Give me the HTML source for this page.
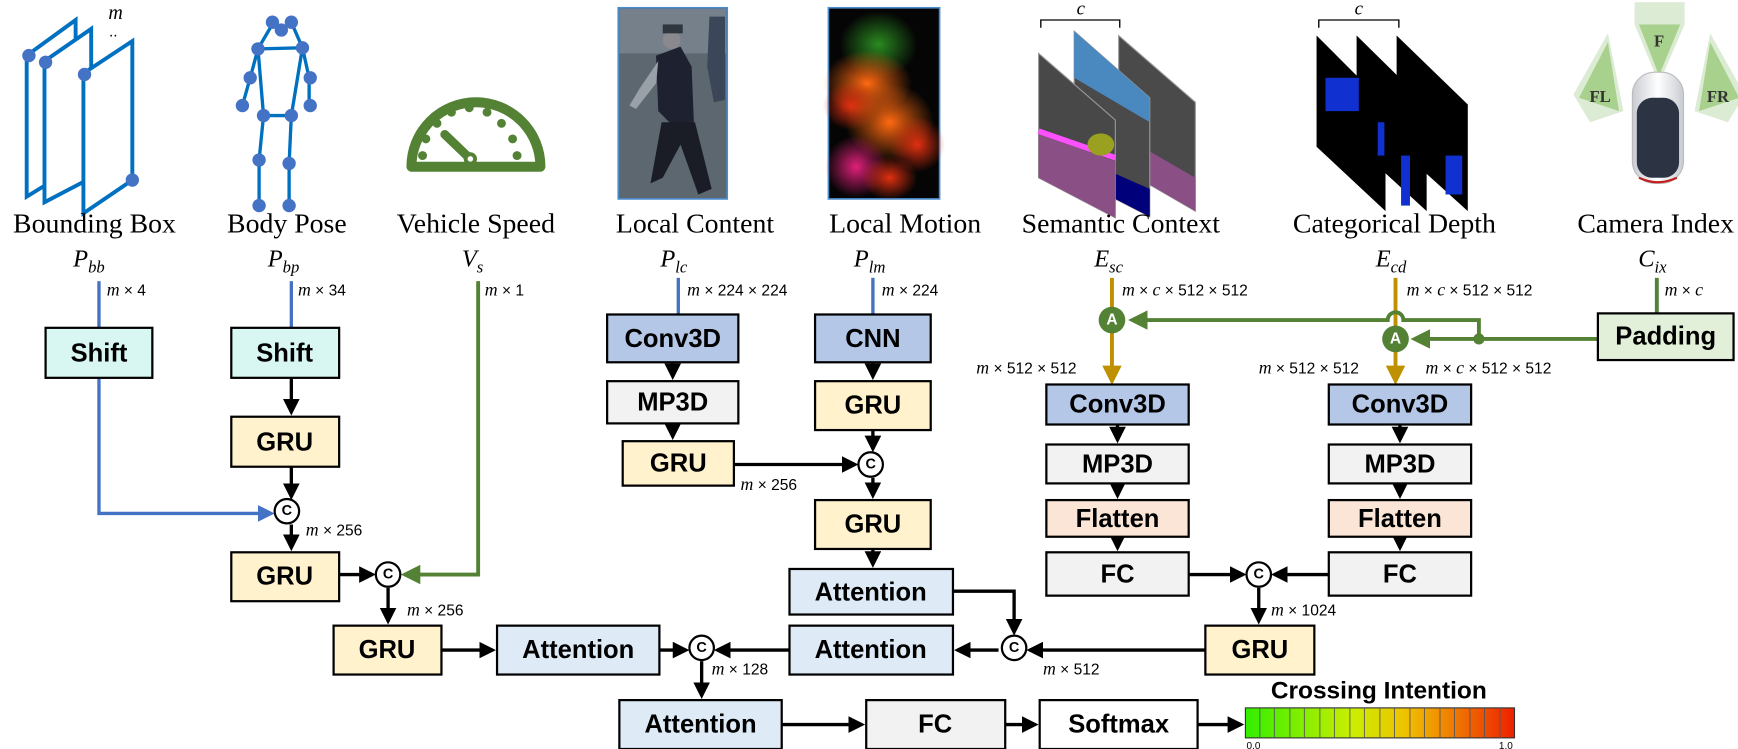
<!DOCTYPE html>
<html><head><meta charset="utf-8"><style>
html,body{margin:0;padding:0;background:#fff;}
svg{display:block;}
.bx{stroke:#000;stroke-width:2;}
.bt{font-family:"Liberation Sans Narrow","Liberation Sans",sans-serif;font-weight:bold;font-size:23px;text-anchor:middle;dominant-baseline:central;}
.tt{font-family:"Liberation Serif",serif;font-size:25px;text-anchor:middle;}
.sb{font-family:"Liberation Serif",serif;font-style:italic;font-size:22px;text-anchor:middle;}
.dm{font-family:"Liberation Sans",sans-serif;font-size:14px;}
.dm tspan.i{font-family:"Liberation Serif",serif;font-style:italic;font-size:16px;}
.ar{stroke:#000;stroke-width:3;fill:none;}
.bl{stroke:#4472c4;stroke-width:3;fill:none;}
.gr{stroke:#548235;stroke-width:3.5;fill:none;}
.gd{stroke:#bf9000;stroke-width:3.5;fill:none;}
.cc{fill:#fff;stroke:#000;stroke-width:2;}
.ct{font-family:"Liberation Sans",sans-serif;font-weight:bold;font-size:13px;text-anchor:middle;dominant-baseline:central;}
</style></head><body>
<svg width="1738" height="749" viewBox="0 0 1563 674" preserveAspectRatio="none" xmlns="http://www.w3.org/2000/svg">
<defs>
<marker id="ak" markerWidth="5" markerHeight="5" refX="4" refY="2.5" orient="auto" markerUnits="strokeWidth"><path d="M0,0L5,2.5L0,5z" fill="#000"/></marker>
<marker id="ab" markerWidth="5" markerHeight="5" refX="4" refY="2.5" orient="auto" markerUnits="strokeWidth"><path d="M0,0L5,2.5L0,5z" fill="#4472c4"/></marker>
<marker id="ag" markerWidth="5" markerHeight="5" refX="4" refY="2.5" orient="auto" markerUnits="strokeWidth"><path d="M0,0L5,2.5L0,5z" fill="#548235"/></marker>
<marker id="ad" markerWidth="5" markerHeight="5" refX="4" refY="2.5" orient="auto" markerUnits="strokeWidth"><path d="M0,0L5,2.5L0,5z" fill="#bf9000"/></marker>
<linearGradient id="bar" x1="0" x2="1"><stop offset="0" stop-color="#33ee00"/><stop offset="0.4" stop-color="#ccee00"/><stop offset="0.6" stop-color="#f0c000"/><stop offset="1" stop-color="#ee2000"/></linearGradient>
<radialGradient id="m1"><stop offset="0" stop-color="#ff6a10"/><stop offset="1" stop-color="#ff6a10" stop-opacity="0"/></radialGradient>
<radialGradient id="m2"><stop offset="0" stop-color="#e0207a"/><stop offset="1" stop-color="#e0207a" stop-opacity="0"/></radialGradient>
<radialGradient id="m3"><stop offset="0" stop-color="#2a8a20"/><stop offset="1" stop-color="#2a8a20" stop-opacity="0"/></radialGradient>
<radialGradient id="m4"><stop offset="0" stop-color="#e03010"/><stop offset="1" stop-color="#e03010" stop-opacity="0"/></radialGradient>
<linearGradient id="car" x1="0" x2="1"><stop offset="0" stop-color="#c8ccd2"/><stop offset="0.5" stop-color="#fff"/><stop offset="1" stop-color="#c8ccd2"/></linearGradient>
</defs>

<!-- Bounding box icon -->
<g stroke="#0070c0" stroke-width="3.5" fill="#fff">
<path d="M24,50 L68,18 L68,150 L24,177 Z"/>
<path d="M40,55 L82,26 L82,160 L40,182 Z"/>
<path d="M75,66 L119,37 L119,162 L75,192 Z"/>
</g>
<g fill="#4472c4"><circle cx="26" cy="50" r="6"/><circle cx="41" cy="56" r="6"/><circle cx="76" cy="67" r="6"/><circle cx="119" cy="162" r="6"/></g>
<text x="104" y="17" class="sb" style="font-size:18px">m</text>
<text x="98" y="33" style="font-family:'Liberation Sans';font-size:14px">..</text>

<!-- Body pose -->
<g stroke="#0070c0" stroke-width="3" fill="none">
<path d="M246,20 L232,44 L272,43 L262,20"/><path d="M232,44 L225,70 L218,95"/><path d="M272,43 L278,70 L278,95"/>
<path d="M232,44 L237,104 L262,104 L272,43"/><path d="M237,104 L233,144 L233,185"/><path d="M262,104 L260,147 L260,185"/>
</g>
<g fill="#4472c4"><circle cx="245" cy="20" r="6"/><circle cx="262" cy="20" r="6"/><circle cx="253" cy="27" r="6"/><circle cx="232" cy="44" r="6"/><circle cx="272" cy="43" r="6"/><circle cx="225" cy="70" r="6"/><circle cx="218" cy="95" r="6"/><circle cx="279" cy="70" r="6"/><circle cx="279" cy="95" r="6"/><circle cx="237" cy="104" r="6"/><circle cx="262" cy="104" r="6"/><circle cx="233" cy="144" r="6"/><circle cx="260" cy="147" r="6"/><circle cx="233" cy="185" r="6"/><circle cx="260" cy="185" r="6"/></g>

<!-- Speedometer -->
<path d="M370,150 A58,58 0 0 1 486,150 Z" fill="none" stroke="#548235" stroke-width="9" stroke-linejoin="round"/>
<g fill="#548235"><circle cx="380" cy="140" r="4"/><circle cx="383" cy="125" r="4"/><circle cx="393" cy="111" r="4"/><circle cx="406" cy="101" r="4"/><circle cx="422" cy="97" r="4"/><circle cx="438" cy="101" r="4"/><circle cx="451" cy="111" r="4"/><circle cx="461" cy="125" r="4"/><circle cx="465" cy="140" r="4"/></g>
<path d="M400,121 L423,143" stroke="#548235" stroke-width="8" stroke-linecap="round"/>
<circle cx="423" cy="143" r="6" fill="#548235"/><circle cx="423" cy="143" r="2.5" fill="#fff"/>

<!-- Local content image -->
<rect x="556" y="7" width="98" height="172" fill="#5d6770" stroke="#4a8ccc" stroke-width="1.5"/>
<rect x="557" y="8" width="96" height="40" fill="#75808a"/>
<path d="M590,50 L612,42 L622,60 L624,110 L604,112 L592,100 Z" fill="#1e2230"/>
<path d="M595,110 L625,110 L640,170 L628,175 L612,130 L596,160 L585,165 Z" fill="#1a1c26"/>
<path d="M592,55 L575,80 L566,95 L572,98 L590,75 Z" fill="#9aa0a8"/>
<circle cx="604" cy="36" r="8" fill="#8a8a8e"/><rect x="596" y="22" width="18" height="8" fill="#30363e"/>
<path d="M638,15 L652,15 L652,90 L642,92 L636,60 Z" fill="#3b4758"/>

<!-- Local motion image -->
<rect x="745" y="7" width="100" height="172" fill="#050505" stroke="#4a8ccc" stroke-width="1.5"/>
<g>
<ellipse cx="790" cy="40" rx="35" ry="30" fill="url(#m3)"/>
<ellipse cx="780" cy="75" rx="40" ry="30" fill="url(#m1)"/>
<ellipse cx="765" cy="95" rx="25" ry="22" fill="url(#m4)"/>
<ellipse cx="800" cy="110" rx="40" ry="35" fill="url(#m1)"/>
<ellipse cx="825" cy="130" rx="25" ry="25" fill="url(#m4)"/>
<ellipse cx="770" cy="150" rx="28" ry="28" fill="url(#m2)"/>
<ellipse cx="800" cy="160" rx="25" ry="20" fill="url(#m4)"/>
</g>

<!-- Semantic context -->
<g>
<path d="M936,25 L936,18 L1007,18 L1007,25" stroke="#000" fill="none" stroke-width="1.2"/>
<text x="972" y="13" class="sb" style="font-size:17px">c</text>
<path d="M1006,32 L1075,92 L1075,190 L1006,150 Z" fill="#4a4a4a" stroke="#999"/>
<path d="M1006,120 L1075,160 L1075,190 L1006,150Z" fill="#8a4f85"/>
<path d="M966,28 L1034,88 L1034,195 L966,160 Z" fill="#4a4a4a" stroke="#999"/>
<path d="M966,28 L1034,88 L1034,110 L966,70Z" fill="#4a88c0"/>
<path d="M966,140 L1034,170 L1034,195 L966,160Z" fill="#00007a"/>
<path d="M934,48 L1003,108 L1003,196 L934,160 Z" fill="#484848" stroke="#999"/>
<path d="M934,120 L1003,145 L1003,196 L934,160Z" fill="#8a4f85"/>
<path d="M934,118 L1003,142" stroke="#ff50ff" stroke-width="5"/>
<ellipse cx="990" cy="130" rx="12" ry="10" fill="#9aa020"/>
</g>

<!-- Categorical depth -->
<g>
<path d="M1186,25 L1186,18 L1258,18 L1258,25" stroke="#000" fill="none" stroke-width="1.2"/>
<text x="1222" y="13" class="sb" style="font-size:17px">c</text>
<path d="M1256,32 L1320,94 L1320,190 L1256,132 Z" fill="#000"/>
<path d="M1220,32 L1283,94 L1283,190 L1220,132 Z" fill="#000"/>
<path d="M1184,32 L1246,94 L1246,190 L1184,132 Z" fill="#000"/>
<g fill="#1030d0"><rect x="1192" y="70" width="30" height="30"/><rect x="1260" y="140" width="8" height="45"/><rect x="1300" y="140" width="15" height="35"/><rect x="1239" y="110" width="6" height="30"/></g>
</g>

<!-- Camera index -->
<g>
<path d="M1470,2 L1515,2 L1515,22 L1492,75 L1470,22 Z" fill="#dcebd3"/>
<path d="M1474,22 L1511,22 L1492,68 Z" fill="#a9d18e"/>
<path d="M1415,85 L1446,30 L1460,100 L1430,110 Z" fill="#dcebd3"/>
<path d="M1420,88 L1446,38 L1456,100 Z" fill="#a9d18e"/>
<path d="M1569,85 L1538,30 L1524,100 L1554,110 Z" fill="#dcebd3"/>
<path d="M1564,88 L1538,38 L1528,100 Z" fill="#a9d18e"/>
<text x="1492" y="42" style="font-family:'Liberation Serif';font-weight:bold;font-size:15px" text-anchor="middle" fill="#333">F</text>
<text x="1439" y="92" style="font-family:'Liberation Serif';font-weight:bold;font-size:15px" text-anchor="middle" fill="#333">FL</text>
<text x="1545" y="92" style="font-family:'Liberation Serif';font-weight:bold;font-size:15px" text-anchor="middle" fill="#333">FR</text>
<rect x="1468" y="65" width="46" height="100" rx="20" fill="url(#car)" stroke="#bbb"/>
<rect x="1472" y="88" width="38" height="72" rx="14" fill="#2c3444"/>
<path d="M1474,160 Q1491,168 1508,160" stroke="#c02020" stroke-width="2" fill="none"/>
</g>

<!-- Titles -->
<text x="85" y="209" class="tt">Bounding Box</text>
<text x="258" y="209" class="tt">Body Pose</text>
<text x="428" y="209" class="tt">Vehicle Speed</text>
<text x="625" y="209" class="tt">Local Content</text>
<text x="814" y="209" class="tt">Local Motion</text>
<text x="1008" y="209" class="tt">Semantic Context</text>
<text x="1254" y="209" class="tt">Categorical Depth</text>
<text x="1489" y="209" class="tt">Camera Index</text>
<text x="80" y="240" class="sb">P<tspan font-size="15" dy="5">bb</tspan></text>
<text x="255" y="240" class="sb">P<tspan font-size="15" dy="5">bp</tspan></text>
<text x="425" y="240" class="sb">V<tspan font-size="15" dy="5">s</tspan></text>
<text x="606" y="240" class="sb">P<tspan font-size="15" dy="5">lc</tspan></text>
<text x="782" y="240" class="sb">P<tspan font-size="15" dy="5">lm</tspan></text>
<text x="997" y="240" class="sb">E<tspan font-size="15" dy="5">sc</tspan></text>
<text x="1251" y="240" class="sb">E<tspan font-size="15" dy="5">cd</tspan></text>
<text x="1486" y="240" class="sb">C<tspan font-size="15" dy="5">ix</tspan></text>

<!-- dimension labels -->
<g class="dm">
<text x="96" y="266"><tspan class="i">m</tspan> × 4</text>
<text x="268" y="266"><tspan class="i">m</tspan> × 34</text>
<text x="436" y="266"><tspan class="i">m</tspan> × 1</text>
<text x="618" y="266"><tspan class="i">m</tspan> × 224 × 224</text>
<text x="793" y="266"><tspan class="i">m</tspan> × 224</text>
<text x="1009" y="266"><tspan class="i">m</tspan> × <tspan class="i">c</tspan> × 512 × 512</text>
<text x="1265" y="266"><tspan class="i">m</tspan> × <tspan class="i">c</tspan> × 512 × 512</text>
<text x="1497" y="266"><tspan class="i">m</tspan> × <tspan class="i">c</tspan></text>
<text x="878" y="336"><tspan class="i">m</tspan> × 512 × 512</text>
<text x="1132" y="336"><tspan class="i">m</tspan> × 512 × 512</text>
<text x="1282" y="336"><tspan class="i">m</tspan> × <tspan class="i">c</tspan> × 512 × 512</text>
<text x="666" y="441"><tspan class="i">m</tspan> × 256</text>
<text x="275" y="482"><tspan class="i">m</tspan> × 256</text>
<text x="366" y="554"><tspan class="i">m</tspan> × 256</text>
<text x="1143" y="554"><tspan class="i">m</tspan> × 1024</text>
<text x="640" y="607"><tspan class="i">m</tspan> × 128</text>
<text x="938" y="607"><tspan class="i">m</tspan> × 512</text>
</g>

<!-- colored input lines -->
<path class="bl" d="M89,253 V295"/>
<path class="bl" d="M89,340 V462 H244" marker-end="url(#ab)"/>
<path class="bl" d="M262,253 V295"/>
<path class="gr" d="M430,253 V517 H364" marker-end="url(#ag)"/>
<path class="bl" d="M610,250 V283"/>
<path class="bl" d="M785,250 V283"/>
<path class="gd" d="M1000,250 V343" marker-end="url(#ad)"/>
<path class="gd" d="M1255,250 V343" marker-end="url(#ad)"/>
<path class="gr" d="M1490,250 V282"/>
<path class="gr" d="M1330,305 V288 H1262 A7,7 0 0 0 1248,288 H1018" marker-end="url(#ag)"/>
<path class="gr" d="M1437,305 H1272" marker-end="url(#ag)"/>
<circle cx="1330" cy="305" r="5" fill="#548235"/>
<circle cx="1000" cy="288" r="12" fill="#548235"/><text x="1000" y="288" class="ct" fill="#fff" style="font-size:14px">A</text>
<circle cx="1255" cy="305" r="12" fill="#548235"/><text x="1255" y="305" class="ct" fill="#fff" style="font-size:14px">A</text>

<!-- black arrows -->
<g class="ar">
<path d="M262,340 V371" marker-end="url(#ak)"/>
<path d="M262,420 V447" marker-end="url(#ak)"/>
<path d="M262,472 V493" marker-end="url(#ak)"/>
<path d="M305,517 H335" marker-end="url(#ak)"/>
<path d="M349,529 V559" marker-end="url(#ak)"/>
<path d="M397,585 H443" marker-end="url(#ak)"/>
<path d="M593,585 H617" marker-end="url(#ak)"/>
<path d="M710,585 H645" marker-end="url(#ak)"/>
<path d="M631,595 V626" marker-end="url(#ak)"/>
<path d="M703,652 H775" marker-end="url(#ak)"/>
<path d="M904,652 H931" marker-end="url(#ak)"/>
<path d="M1077,652 H1116" marker-end="url(#ak)"/>
<path d="M605,326 V339" marker-end="url(#ak)"/>
<path d="M605,381 V393" marker-end="url(#ak)"/>
<path d="M660,418 H769" marker-end="url(#ak)"/>
<path d="M785,326 V339" marker-end="url(#ak)"/>
<path d="M785,387 V404" marker-end="url(#ak)"/>
<path d="M785,430 V446" marker-end="url(#ak)"/>
<path d="M785,494 V508" marker-end="url(#ak)"/>
<path d="M857,532 H912 V569" marker-end="url(#ak)"/>
<path d="M1084,585 H926" marker-end="url(#ak)"/>
<path d="M898,585 H861" marker-end="url(#ak)"/>
<path d="M1005,382 V396" marker-end="url(#ak)"/>
<path d="M1005,435 V446" marker-end="url(#ak)"/>
<path d="M1005,483 V493" marker-end="url(#ak)"/>
<path d="M1259,382 V396" marker-end="url(#ak)"/>
<path d="M1259,435 V446" marker-end="url(#ak)"/>
<path d="M1259,483 V493" marker-end="url(#ak)"/>
<path d="M1069,517 H1118" marker-end="url(#ak)"/>
<path d="M1195,517 H1146" marker-end="url(#ak)"/>
<path d="M1132,529 V559" marker-end="url(#ak)"/>
</g>

<!-- C circles -->
<g><circle cx="258" cy="460" r="11" class="cc"/><text x="258" y="460" class="ct">C</text>
<circle cx="349" cy="517" r="11" class="cc"/><text x="349" y="517" class="ct">C</text>
<circle cx="631" cy="583" r="11" class="cc"/><text x="631" y="583" class="ct">C</text>
<circle cx="912" cy="583" r="11" class="cc"/><text x="912" y="583" class="ct">C</text>
<circle cx="783" cy="418" r="11" class="cc"/><text x="783" y="418" class="ct">C</text>
<circle cx="1132" cy="517" r="11" class="cc"/><text x="1132" y="517" class="ct">C</text></g>

<!-- boxes -->
<g class="bx">
<rect x="41" y="295" width="96" height="45" fill="#d8f6f2"/>
<rect x="208" y="295" width="97" height="45" fill="#d8f6f2"/>
<rect x="208" y="375" width="97" height="45" fill="#fff2cc"/>
<rect x="208" y="497" width="97" height="44" fill="#fff2cc"/>
<rect x="300" y="563" width="97" height="44" fill="#fff2cc"/>
<rect x="447" y="563" width="146" height="44" fill="#deebf7"/>
<rect x="710" y="563" width="147" height="44" fill="#deebf7"/>
<rect x="710" y="512" width="147" height="41" fill="#deebf7"/>
<rect x="1084" y="563" width="98" height="44" fill="#fff2cc"/>
<rect x="557" y="630" width="146" height="44" fill="#deebf7"/>
<rect x="779" y="630" width="125" height="44" fill="#f2f2f2"/>
<rect x="935" y="630" width="142" height="44" fill="#fff"/>
<rect x="546" y="283" width="118" height="43" fill="#b4c7e7"/>
<rect x="546" y="343" width="118" height="38" fill="#f2f2f2"/>
<rect x="560" y="397" width="100" height="40" fill="#fff2cc"/>
<rect x="733" y="283" width="104" height="43" fill="#b4c7e7"/>
<rect x="733" y="343" width="104" height="44" fill="#fff2cc"/>
<rect x="733" y="450" width="104" height="44" fill="#fff2cc"/>
<rect x="941" y="346" width="128" height="36" fill="#b4c7e7"/>
<rect x="941" y="400" width="128" height="35" fill="#f2f2f2"/>
<rect x="941" y="450" width="128" height="33" fill="#fbe5d6"/>
<rect x="941" y="497" width="128" height="39" fill="#f2f2f2"/>
<rect x="1195" y="346" width="128" height="36" fill="#b4c7e7"/>
<rect x="1195" y="400" width="128" height="35" fill="#f2f2f2"/>
<rect x="1195" y="450" width="128" height="33" fill="#fbe5d6"/>
<rect x="1195" y="497" width="128" height="39" fill="#f2f2f2"/>
<rect x="1437" y="282" width="122" height="42" fill="#e2f0d9"/>
</g>
<g class="bt">
<text x="89" y="318">Shift</text><text x="256" y="318">Shift</text>
<text x="256" y="398">GRU</text><text x="256" y="519">GRU</text><text x="348" y="585">GRU</text>
<text x="520" y="585">Attention</text><text x="783" y="585">Attention</text><text x="783" y="533">Attention</text>
<text x="1133" y="585">GRU</text><text x="630" y="652">Attention</text><text x="841" y="652">FC</text><text x="1006" y="652">Softmax</text>
<text x="605" y="305">Conv3D</text><text x="605" y="362">MP3D</text><text x="610" y="417">GRU</text>
<text x="785" y="305">CNN</text><text x="785" y="365">GRU</text><text x="785" y="472">GRU</text>
<text x="1005" y="364">Conv3D</text><text x="1005" y="418">MP3D</text><text x="1005" y="467">Flatten</text><text x="1005" y="517">FC</text>
<text x="1259" y="364">Conv3D</text><text x="1259" y="418">MP3D</text><text x="1259" y="467">Flatten</text><text x="1259" y="517">FC</text>
<text x="1498" y="303">Padding</text>
</g>

<!-- crossing intention bar -->
<text x="1240" y="622" class="bt" style="font-size:22px">Crossing Intention</text>
<rect x="1120" y="637" width="242" height="27" fill="url(#bar)" stroke="#333" stroke-width="1"/>
<g stroke="#555" stroke-width="0.8">
<path d="M1133,637V664M1146,637V664M1160,637V664M1173,637V664M1187,637V664M1200,637V664M1214,637V664M1227,637V664M1241,637V664M1254,637V664M1268,637V664M1281,637V664M1295,637V664M1308,637V664M1322,637V664M1335,637V664M1349,637V664"/>
</g>
<text x="1121" y="674" style="font-family:'Liberation Sans';font-size:9px">0.0</text>
<text x="1348" y="674" style="font-family:'Liberation Sans';font-size:9px">1.0</text>
</svg>
</body></html>
